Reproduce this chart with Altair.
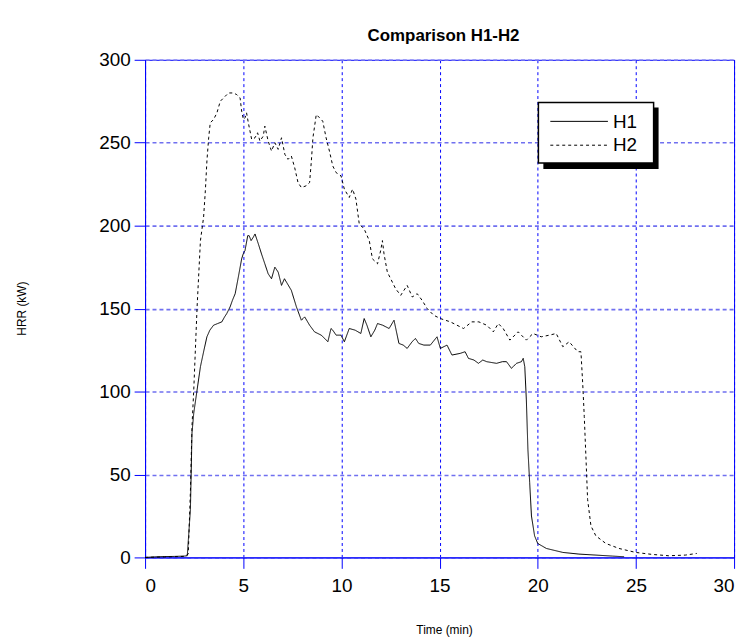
import altair as alt
import pandas as pd

# ---- data ----
series_names = ["H1", "H2"]

h1_time = [0.0, 0.5, 1.0, 1.5, 2.0, 2.15, 2.31, 2.39, 2.48, 2.65, 2.82, 3.0, 3.15, 3.3, 3.49,
           3.7, 3.91, 4.05, 4.16, 4.33, 4.45, 4.59, 4.75, 4.92, 5.0, 5.09, 5.23, 5.3, 5.4, 5.51,
           5.6, 5.77, 5.93, 6.1, 6.27, 6.44, 6.61, 6.78, 6.95, 7.1, 7.2, 7.45, 7.71, 7.96, 8.13,
           8.38, 8.63, 8.97, 9.15, 9.31, 9.47, 9.56, 9.73, 9.98, 10.15, 10.4, 10.7, 10.99, 11.16,
           11.3, 11.5, 11.7, 11.84, 12.1, 12.43, 12.68, 12.93, 13.15, 13.35, 13.6, 13.77, 13.94,
           14.2, 14.53, 14.87, 15.04, 15.38, 15.63, 16.05, 16.3, 16.47, 16.75, 16.98, 17.2, 17.4,
           17.9, 18.2, 18.41, 18.66, 18.92, 19.17, 19.26, 19.34, 19.42, 19.5, 19.59, 19.68, 19.84,
           20.0, 20.44, 21.28, 22.1, 22.96, 23.8, 24.4]
h1_hrr = [0.0, 0.3, 0.5, 0.6, 0.8, 1.0, 29, 75, 87, 101, 115, 125, 133, 137, 140,
          141, 142, 145, 147, 151, 155, 159, 169, 180, 183, 185, 194, 194, 191, 193,
          195, 189, 183, 177, 171, 168, 175, 172, 164, 168, 166, 161, 151, 143, 145,
          140, 136, 134, 132, 130, 138, 137, 134, 134, 130, 138, 137, 135, 144,
          140, 133, 137, 141, 140, 138, 143, 129, 128, 126, 130, 132, 129,
          128, 128, 133, 126, 128, 122, 123, 124, 120, 119, 117, 119, 118,
          117, 118, 118, 114, 117, 118, 120, 115, 95, 65, 45, 25, 13,
          8.4, 5.4, 3.0, 2.0, 1.4, 0.8, 0.4]

h2_time = [0.0, 1.0, 2.0, 2.2, 2.31, 2.39, 2.48, 2.65, 2.82, 2.98, 3.07, 3.15, 3.24, 3.32, 3.49,
           3.66, 3.83, 4.08, 4.25, 4.5, 4.67, 4.84, 4.92, 5.01, 5.09, 5.17, 5.26, 5.43, 5.6, 5.73,
           5.85, 6.02, 6.1, 6.27, 6.44, 6.61, 6.78, 6.95, 7.12, 7.28, 7.45, 7.62, 7.79, 7.96, 8.2,
           8.38, 8.47, 8.55, 8.72, 8.89, 9.05, 9.22, 9.39, 9.56, 9.73, 9.98, 10.15, 10.4, 10.57,
           10.74, 10.91, 11.16, 11.42, 11.58, 11.84, 12.0, 12.09, 12.17, 12.34, 12.51, 12.76, 13.02,
           13.35, 13.61, 13.86, 14.11, 14.37, 14.7, 15.04, 15.55, 16.22, 16.64, 17.0, 17.4, 17.74,
           17.99, 18.24, 18.58, 19.0, 19.42, 19.76, 20.18, 20.6, 20.94, 21.28, 21.6, 22.04, 22.2,
           22.29, 22.37, 22.46, 22.54, 22.71, 22.96, 23.47, 24.14, 24.99, 25.83, 26.67, 27.52, 28.1]
h2_hrr = [0.0, 0.3, 0.6, 2, 40, 79, 101, 151, 191, 205, 221, 239, 253, 262, 264,
          268, 275, 278, 280, 280, 279, 277, 269, 264, 265, 268, 262, 252, 253, 256,
          251, 254, 260, 251, 245, 250, 246, 253, 243, 240, 242, 235, 226, 223, 224,
          226, 239, 253, 267, 265, 263, 253, 245, 236, 232, 230, 222, 217, 222,
          216, 201, 198, 191, 180, 177, 185, 191, 183, 172, 168, 162, 158,
          164, 157, 159, 155, 150, 146, 144, 142, 138, 142, 142, 140, 136,
          141, 138, 131, 136, 131, 135, 133, 134, 135, 127, 130, 124, 124,
          105, 85, 59, 35, 19, 13, 8.4, 5.4, 3.0, 1.8, 1.0, 1.4, 2.4]

x_ticks = [0, 5, 10, 15, 20, 25, 30]
y_ticks = [0, 50, 100, 150, 200, 250, 300]

FONT = "Liberation Sans"
BLUE = "#0000ff"

df = pd.concat([
    pd.DataFrame({"t": h1_time, "hrr": h1_hrr, "series": "H1", "order": range(len(h1_time))}),
    pd.DataFrame({"t": h2_time, "hrr": h2_hrr, "series": "H2", "order": range(len(h2_time))}),
])
legend_df = pd.DataFrame({"series": series_names})

axis_common = dict(grid=True, gridOpacity=1,
                   domainColor=BLUE, domainWidth=1, tickColor=BLUE, tickSize=11, tickWidth=1,
                   labelFont=FONT, labelFontSize=19, labelColor="black",
                   titleFont=FONT, titleColor="black", titleFontSize=12, titleFontWeight="normal")

lines = alt.Chart(df).mark_line(color="black", strokeWidth=1, interpolate="linear").encode(
    x=alt.X("t:Q", scale=alt.Scale(domain=[0, 30], nice=False),
            axis=alt.Axis(values=x_ticks, title="Time (min)", titleX=301, titleY=73,
                          titleBaseline="middle", labelPadding=8, gridColor=BLUE,
                          gridDash=[3, 3], gridWidth=1, **axis_common)),
    y=alt.Y("hrr:Q", scale=alt.Scale(domain=[0, 300], nice=False),
            axis=alt.Axis(values=y_ticks, title="HRR (kW)", titleX=-124, titleY=250,
                          titleAngle=270, titleAlign="center", titleBaseline="middle",
                          labelPadding=4, gridColor="#7070f0", gridDash=[4, 3], gridWidth=1.6,
                          **axis_common)),
    strokeDash=alt.StrokeDash("series:N", scale=alt.Scale(domain=series_names, range=[[1, 0], [3, 3]]),
                              legend=None),
    detail="series:N",
    order="order:Q",
)

# legend box (decoration) with drop shadow
shadow = alt.Chart(legend_df.head(1)).mark_rect(color="black").encode(
    x=alt.value(401), x2=alt.value(517), y=alt.value(48), y2=alt.value(110))
box = alt.Chart(legend_df.head(1)).mark_rect(fill="white", stroke="black", strokeWidth=1.5).encode(
    x=alt.value(396), x2=alt.value(512), y=alt.value(43), y2=alt.value(104))
leg_h1 = alt.Chart(legend_df).transform_filter(alt.datum.series == "H1").mark_rule(
    color="black", strokeWidth=1).encode(x=alt.value(408), x2=alt.value(466), y=alt.value(62))
leg_h2 = alt.Chart(legend_df).transform_filter(alt.datum.series == "H2").mark_rule(
    color="black", strokeWidth=1, strokeDash=[3, 3]).encode(x=alt.value(408), x2=alt.value(466), y=alt.value(86))
txt_h1 = alt.Chart(legend_df).transform_filter(alt.datum.series == "H1").mark_text(
    align="left", baseline="middle", fontSize=19, font=FONT, color="black").encode(
    x=alt.value(471), y=alt.value(63), text="series:N")
txt_h2 = alt.Chart(legend_df).transform_filter(alt.datum.series == "H2").mark_text(
    align="left", baseline="middle", fontSize=19, font=FONT, color="black").encode(
    x=alt.value(471), y=alt.value(86), text="series:N")

chart = alt.layer(lines, shadow, box, leg_h1, leg_h2, txt_h1, txt_h2).properties(
    width=593, height=501,
    background="white",
    title=alt.TitleParams("Comparison H1-H2", fontSize=17, font=FONT, fontWeight="bold",
                          anchor="middle", offset=11, dx=4, dy=5, color="black"),
    autosize=alt.AutoSizeParams(type="none"),
    padding={"left": 138, "top": 50, "right": 10, "bottom": 80},
).configure_view(stroke=BLUE, strokeWidth=1)

chart.save("out.html", embed_options={"renderer": "svg", "actions": False})
